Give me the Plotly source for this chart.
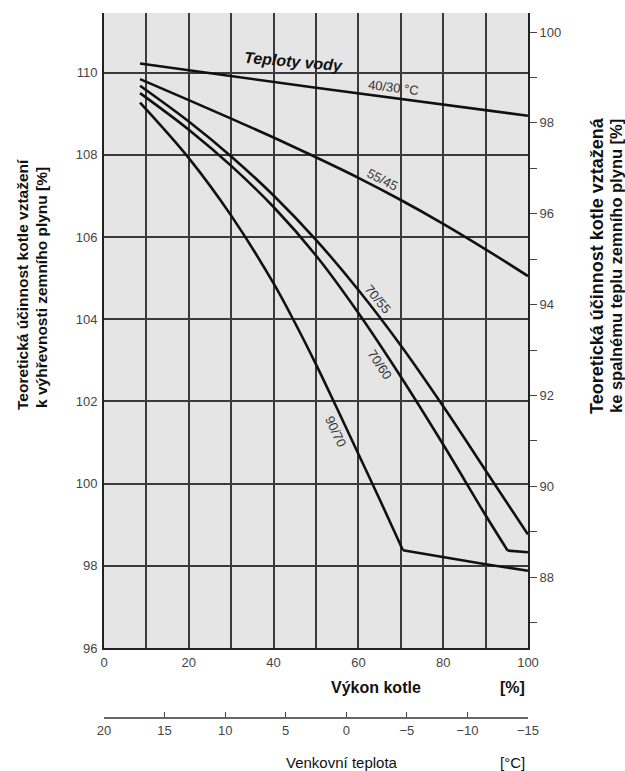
import plotly.graph_objects as go

# ---------------- data ----------------
power_4030 = [8.5, 50, 100]
eff_4030 = [110.22, 109.63, 108.95]

power_5545 = [8.5, 20, 30, 40, 50, 60, 70, 80, 90, 100]
eff_5545 = [109.84, 109.33, 108.88, 108.42, 107.94, 107.44, 106.90, 106.32, 105.70, 105.05]

power_7055 = [8.5, 20, 30, 40, 50, 60, 70, 80, 90, 100]
eff_7055 = [109.68, 108.81, 107.96, 107.01, 105.93, 104.71, 103.36, 101.88, 100.32, 98.76]

power_7060 = [8.5, 20, 30, 40, 50, 60, 70, 80, 90, 95.2, 100]
eff_7060 = [109.50, 108.61, 107.73, 106.73, 105.55, 104.15, 102.60, 100.95, 99.23, 98.37, 98.33]
kink_7060 = 9

power_9070 = [8.5, 20, 30, 40, 45, 50, 55, 60, 65, 70.5, 80, 90, 100]
eff_9070 = [109.27, 107.92, 106.52, 104.87, 103.92, 102.90, 101.82, 100.72, 99.62, 98.38, 98.21, 98.04, 97.88]
kink_9070 = 9

power_ticks = [0, 20, 40, 60, 80, 100]
left_ticks = [96, 98, 100, 102, 104, 106, 108, 110]
right_ticks = [88, 90, 92, 94, 96, 98, 100]
temp_ticks = [20, 15, 10, 5, 0, -5, -10, -15]

# ---------------- figure ----------------
W, H = 625, 771
ML, MR, MT, MB = 104, 97, 13, 53
plot_bottom_px = 648
pw = W - ML - MR
ph = H - MT - MB
ydom0 = (H - MB - plot_bottom_px) / ph


def xp(px):
    return (px - ML) / pw


def yp(py):
    return (H - MB - py) / ph


GRID = "#3a3a3a"
TICKFONT = dict(family="Liberation Sans, Arial, sans-serif", size=13, color="#444444")

fig = go.Figure()


def add_curve(x, y, shape="spline"):
    fig.add_trace(go.Scatter(
        x=x, y=y, mode="lines",
        line=dict(color="#111111", width=2.6, shape=shape, smoothing=1.0),
        showlegend=False, hoverinfo="skip"))


add_curve(power_4030, eff_4030, "linear")
add_curve(power_5545, eff_5545)
add_curve(power_7055, eff_7055)
add_curve(power_7060[:kink_7060 + 1], eff_7060[:kink_7060 + 1])
add_curve(power_7060[kink_7060:], eff_7060[kink_7060:], "linear")
add_curve(power_9070[:kink_9070 + 1], eff_9070[:kink_9070 + 1])
add_curve(power_9070[kink_9070:], eff_9070[kink_9070:], "linear")

# empty traces that attach the secondary axes
fig.add_trace(go.Scatter(x=[], y=[], yaxis="y2", showlegend=False, hoverinfo="skip"))
fig.add_trace(go.Scatter(x=[], y=[], xaxis="x2", showlegend=False, hoverinfo="skip"))

fig.update_layout(
    width=W, height=H,
    margin=dict(l=ML, r=MR, t=MT, b=MB, pad=0, autoexpand=False),
    paper_bgcolor="white",
    plot_bgcolor="#e5e5e5",
    font=dict(family="Liberation Sans, Arial, sans-serif", color="#222222"),
    xaxis=dict(
        range=[0, 100], tickvals=power_ticks, showgrid=True, gridcolor=GRID, gridwidth=1.5,
        minor=dict(tick0=0, dtick=10, showgrid=True, gridcolor=GRID, gridwidth=1.5),
        ticks="outside", ticklen=1, tickcolor="rgba(0,0,0,0)", tickfont=TICKFONT,
        showline=True, linecolor="#222222", linewidth=2, zeroline=False,
    ),
    yaxis=dict(
        domain=[ydom0, 1], range=[96, 111.45], tickvals=left_ticks,
        showgrid=True, gridcolor=GRID, gridwidth=1.5,
        ticks="outside", ticklen=2, tickcolor="rgba(0,0,0,0)", tickfont=TICKFONT,
        showline=True, linecolor="#222222", linewidth=2, zeroline=False,
    ),
    yaxis2=dict(
        overlaying="y", side="right", domain=[ydom0, 1], range=[86.44, 100.42],
        tickvals=right_ticks, showgrid=False, zeroline=False,
        ticks="outside", ticklen=7, tickcolor="#444444", tickwidth=1.2, tickfont=TICKFONT,
        minor=dict(tick0=87, dtick=2, ticks="outside", ticklen=7, tickcolor="#444444", tickwidth=1.2),
        showline=True, linecolor="#222222", linewidth=2,
    ),
    xaxis2=dict(
        overlaying="x", anchor="free", position=0, side="bottom",
        range=[20, -15], tickvals=temp_ticks, showgrid=False, zeroline=False,
        ticks="inside", ticklen=5, tickcolor="#444444", tickwidth=1.2, tickfont=TICKFONT,
        showline=True, linecolor="#666666", linewidth=2,
    ),
)

ann = []


def label(x, y, text, angle, size, color="#333333", ref="data"):
    xr, yr = ("x", "y") if ref == "data" else ("paper", "paper")
    ann.append(dict(x=x, y=y, xref=xr, yref=yr, text=text, showarrow=False,
                    textangle=angle, xanchor="center", yanchor="middle",
                    font=dict(size=size, color=color)))


# curve labels (data coordinates)
label(44.7, 110.26, "<b><i>Teploty vody</i></b>", 5, 16, "#111111")
label(68.2, 109.63, "40/30 °C", 7, 13)
label(65.6, 107.39, "55/45", 27, 13)
label(64.6, 104.47, "70/55", 50, 13)
label(65.1, 102.91, "70/60", 56, 13)
label(54.6, 101.26, "90/70", 65, 13)

# axis titles (paper coordinates)
label(xp(376), yp(687), "<b>Výkon kotle</b>", 0, 16, "#111111", "paper")
label(xp(512), yp(687), "<b>[%]</b>", 0, 16, "#111111", "paper")
label(xp(342), yp(762), "Venkovní teplota", 0, 15, "#111111", "paper")
label(xp(512), yp(762), "[°C]", 0, 15, "#111111", "paper")
label(xp(22), yp(285), "<b>Teoretická účinnost kotle vztažení</b>", -90, 15.5, "#111111", "paper")
label(xp(41), yp(288), "<b>k výhřevnosti zemního plynu [%]</b>", -90, 15.5, "#111111", "paper")
label(xp(597), yp(266), "<b>Teoretická účinnost kotle vztažená</b>", -90, 18, "#111111", "paper")
label(xp(616), yp(266), "<b>ke spalnému teplu zemního plynu [%]</b>", -90, 16.5, "#111111", "paper")

fig.update_layout(annotations=ann)

fig.write_html("out.html", config={"displayModeBar": False},
               post_script="document.body.style.margin='0';")
